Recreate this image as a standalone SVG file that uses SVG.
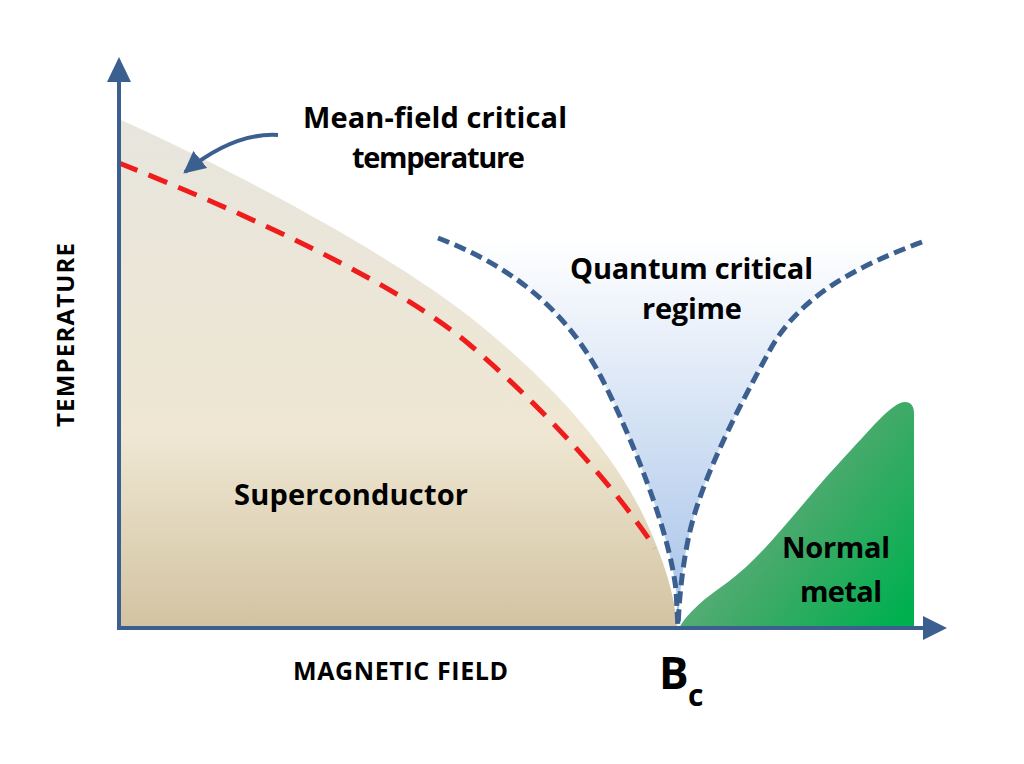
<svg xmlns="http://www.w3.org/2000/svg" width="1024" height="764" viewBox="0 0 1024 764">
  <style>
    .lbl { font-family: "Open Sans", "Liberation Sans", Arial, sans-serif; font-weight: 700; fill: #000; }
    .big { font-size: 29px; }
    .axis-lbl { font-size: 25px; }
    .axis { stroke: #3b5f8f; stroke-width: 4; fill: none; }
    .axhead { fill: #3b5f8f; }
    .red { stroke: #f01c1c; stroke-width: 5; fill: none; stroke-dasharray: 20 12; }
    .blue { stroke: #3b5f8f; stroke-width: 5; fill: none; stroke-dasharray: 12 6; }
  </style>
  <defs>
    <linearGradient id="scGrad" gradientUnits="userSpaceOnUse" x1="0" y1="120" x2="0" y2="628">
      <stop offset="0" stop-color="#e7e5dd"/>
      <stop offset="0.62" stop-color="#efe7d3"/>
      <stop offset="1" stop-color="#d2c3a1"/>
    </linearGradient>
    <linearGradient id="qcGrad" gradientUnits="userSpaceOnUse" x1="0" y1="240" x2="0" y2="628">
      <stop offset="0" stop-color="#ffffff"/>
      <stop offset="1" stop-color="#a4c1e8"/>
    </linearGradient>
    <linearGradient id="nmGrad" gradientUnits="userSpaceOnUse" x1="690" y1="430" x2="914" y2="600">
      <stop offset="0" stop-color="#82b194"/>
      <stop offset="0.55" stop-color="#40aa68"/>
      <stop offset="1" stop-color="#00b04f"/>
    </linearGradient>
    <marker id="arrowHead" viewBox="0 0 10 10" refX="9" refY="5" markerWidth="5.5" markerHeight="5.5" orient="auto" markerUnits="strokeWidth">
      <path d="M0,0 L10,5 L0,10 Z" fill="#3b5f8f"/>
    </marker>
  </defs>

  <rect width="1024" height="764" fill="#ffffff"/>

  <g id="superconductor">
    <path d="M121,120 C250,178 400,260 480,325 C560,390 620,460 650,530 C668,572 675,600 677,628 L121,628 Z" fill="url(#scGrad)"/>
    <text class="lbl big" x="234" y="505" textLength="234">Superconductor</text>
  </g>

  <g id="quantum-critical">
    <path d="M438,238 C500,262 560,300 600,375 C621,415 668,520 676,590 L678,628 C679,600 682,570 688,540 C700,480 740,405 770,350 C800,295 860,265 922,242 Z" fill="url(#qcGrad)"/>
    <path class="blue" d="M438,238 C500,262 560,300 600,375 C621,415 668,520 676,590 L678,628"/>
    <path class="blue" d="M922,242 C860,265 800,295 770,350 C740,405 700,480 688,540 C682,570 679,600 678,628"/>
    <text class="lbl big" x="570" y="279" textLength="243">Quantum critical</text>
    <text class="lbl big" x="642" y="319" textLength="100">regime</text>
  </g>

  <g id="normal-metal">
    <path d="M679,628 C688,612 705,598 728,582 C765,555 800,505 840,462 C870,430 892,402 905,402 Q914,402 914,414 L914,628 Z" fill="url(#nmGrad)"/>
    <text class="lbl big" x="782" y="558" textLength="108">Normal</text>
    <text class="lbl big" x="800" y="602" textLength="82">metal</text>
  </g>

  <g id="mean-field">
    <path class="red" d="M119,163 C250,215 400,285 470,345 C540,405 610,480 655,548"/>
    <text class="lbl big" x="303" y="128" textLength="264">Mean-field critical</text>
    <text class="lbl big" x="352" y="168" textLength="173">temperature</text>
  </g>

  <g id="axes">
    <line class="axis" x1="119" y1="630" x2="119" y2="78"/>
    <polygon class="axhead" points="119,57 107,82 131,82"/>
    <line class="axis" x1="117" y1="628" x2="926" y2="628"/>
    <polygon class="axhead" points="947,628 923,616 923,640"/>
    <text class="lbl axis-lbl" x="293" y="680" textLength="215">MAGNETIC FIELD</text>
    <text class="lbl" font-size="24" transform="translate(74,427) rotate(-90)" x="0" y="0" textLength="184">TEMPERATURE</text>
    <text class="lbl" font-size="44" x="659" y="689">B</text>
    <text class="lbl" font-size="30" x="688" y="706">c</text>
  </g>

  <g id="connectors">
    <path d="M278,135 C245,133 212,150 185,172" stroke="#3b5f8f" stroke-width="4" fill="none" marker-end="url(#arrowHead)"/>
  </g>
</svg>
